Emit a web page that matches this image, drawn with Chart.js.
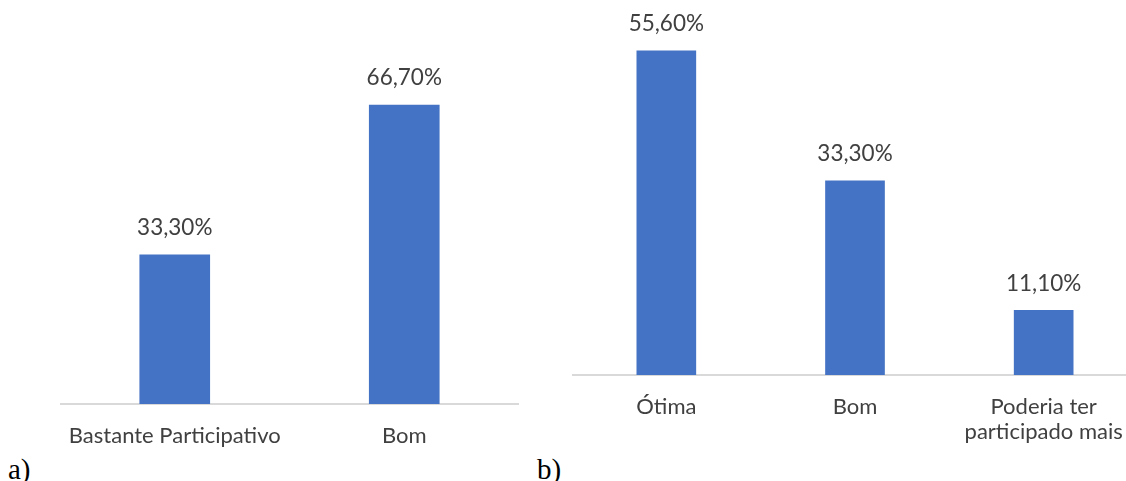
<!DOCTYPE html>
<html>
<head>
<meta charset="utf-8">
<script src="https://cdn.jsdelivr.net/npm/chart.js@4.4.1/dist/chart.umd.min.js"></script>
<style>
  html, body { margin: 0; padding: 0; background: #ffffff; width: 1126px; height: 481px; overflow: hidden; }
  .box { position: absolute; top: 0; height: 481px; }
  .box canvas { display: block; }
  .tag { position: absolute; font-family: "Liberation Serif", "DejaVu Serif", serif; font-size: 29px; color: #000; line-height: 1; }
</style>
</head>
<body>
<div class="box" id="boxA" style="left:60px; width:459px;"><canvas id="chartA"></canvas></div>
<div class="box" id="boxB" style="left:572px; width:566px;"><canvas id="chartB"></canvas></div>
<div class="tag" style="left:8px; top:455px;">a)</div>
<div class="tag" style="left:537px; top:455px;">b)</div>
<script>
// Panel a) – participação
const categoriesA = ['Bastante Participativo', 'Bom'];
const valuesA = [33.3, 66.7];

// Panel b) – avaliação
const categoriesB = ['Ótima', 'Bom', ['Poderia ter', 'participado mais']];
const valuesB = [55.6, 33.3, 11.1];

const BAR_COLOR = '#4472C4';
const TEXT_COLOR = '#404040';
const FONT = 'Lato, "Open Sans", sans-serif';

// Writes each bar's value above it, Portuguese decimal format
const valueLabels = {
  id: 'valueLabels',
  afterDatasetsDraw(chart) {
    const ctx = chart.ctx;
    const meta = chart.getDatasetMeta(0);
    const data = chart.data.datasets[0].data;
    ctx.save();
    ctx.font = '22.5px ' + FONT;
    ctx.fillStyle = TEXT_COLOR;
    ctx.textAlign = 'center';
    ctx.textBaseline = 'middle';
    meta.data.forEach((bar, i) => {
      const txt = data[i].toFixed(2).replace('.', ',') + '%';
      ctx.fillText(txt, bar.x, bar.y - 27);
    });
    ctx.restore();
  }
};

function makeChart(id, labels, values, opts) {
  const canvas = document.getElementById(id);
  return new Chart(canvas, {
    type: 'bar',
    data: {
      labels: labels,
      datasets: [{
        data: values,
        backgroundColor: BAR_COLOR,
        borderWidth: 0,
        barThickness: opts.barThickness
      }]
    },
    options: {
      responsive: true,
      maintainAspectRatio: false,
      animation: false,
      events: [],
      layout: { padding: { top: opts.padTop, left: 0, right: 0, bottom: 0 } },
      plugins: { legend: { display: false }, tooltip: { enabled: false } },
      scales: {
        x: {
          grid: { display: false, drawTicks: false },
          border: { display: true, color: '#d9d9d9', width: 2 },
          ticks: {
            color: TEXT_COLOR,
            font: { family: FONT, size: 22, lineHeight: 1.15 },
            padding: opts.tickPad,
            maxRotation: 0,
            autoSkip: false
          },
          afterFit(scale) {
            // the axis spans the whole canvas width; labels fit inside their slots
            scale.height = opts.axisHeight;
            scale.paddingLeft = 0;
            scale.paddingRight = 0;
          }
        },
        y: {
          display: false,
          min: 0,
          max: opts.max
        }
      }
    },
    plugins: [valueLabels]
  });
}

makeChart('chartA', categoriesA, valuesA, {
  barThickness: 70, padTop: 45.6, max: 80, axisHeight: 77, tickPad: 19
});
makeChart('chartB', categoriesB, valuesB, {
  barThickness: 59, padTop: 25.2, max: 60, axisHeight: 106, tickPad: 19
});
</script>
</body>
</html>
